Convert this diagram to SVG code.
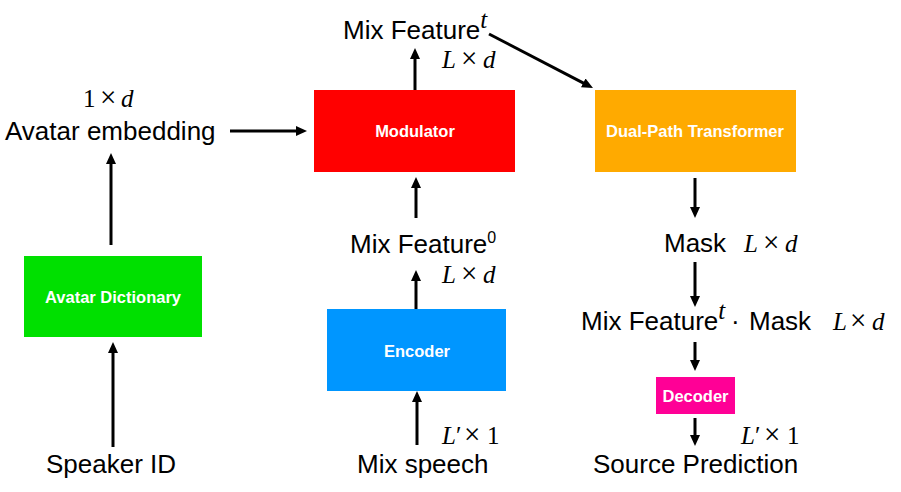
<svg xmlns="http://www.w3.org/2000/svg" width="901" height="492" viewBox="0 0 901 492">
<style>
.lbl{font-family:"Liberation Sans",Arial,sans-serif;font-size:26px;fill:#000}
.box{font-family:"Liberation Sans",Arial,sans-serif;font-size:16.5px;font-weight:bold;fill:#fff;text-anchor:middle}
.m{font-family:"Liberation Serif","Times New Roman",serif;font-size:25px;fill:#000}
.i{font-style:italic}
.x{font-size:29px}
.sup{font-size:16px}
.conn line{stroke:#000;stroke-width:3;fill:none}
</style>
<defs>
<marker id="ah" markerUnits="userSpaceOnUse" markerWidth="12" markerHeight="11" refX="3" refY="5" orient="auto">
<path d="M0,0 L11,5 L0,10 z" fill="#000"/>
</marker>
</defs>
<rect width="901" height="492" fill="#fff"/>

<g id="avatar-dictionary">
<rect x="24" y="256" width="178" height="81" fill="#00E000"/>
<text class="box" x="113" y="303">Avatar Dictionary</text>
</g>
<g id="modulator">
<rect x="314" y="90" width="201" height="82" fill="#FF0000"/>
<text class="box" x="415" y="137">Modulator</text>
</g>
<g id="encoder">
<rect x="327" y="309" width="179" height="82" fill="#0096FF"/>
<text class="box" x="417" y="357">Encoder</text>
</g>
<g id="dual-path-transformer">
<rect x="595" y="90" width="201" height="82" fill="#FFAA00"/>
<text class="box" x="695" y="137">Dual-Path Transformer</text>
</g>
<g id="decoder">
<rect x="656" y="377" width="79" height="37" fill="#FF0096"/>
<text class="box" x="695.5" y="402">Decoder</text>
</g>

<g id="speaker-id"><text class="lbl" x="46" y="473">Speaker ID</text></g>
<g id="avatar-embedding">
<text class="lbl" x="5" y="140">Avatar embedding</text>
<text class="m" x="83" y="107">1<tspan x="100" class="x">×</tspan><tspan x="121" class="i">d</tspan></text>
</g>
<g id="mix-feature-t">
<text class="lbl" x="343" y="39">Mix Feature<tspan class="m i" font-size="17px" dy="-11">t</tspan></text>
<text class="m" x="442" y="68"><tspan class="i">L</tspan><tspan x="461" class="x">×</tspan><tspan x="483" class="i">d</tspan></text>
</g>
<g id="mix-feature-0">
<text class="lbl" x="350" y="253">Mix Feature<tspan class="sup" dy="-10">0</tspan></text>
<text class="m" x="442" y="283"><tspan class="i">L</tspan><tspan x="461" class="x">×</tspan><tspan x="483" class="i">d</tspan></text>
</g>
<g id="mix-speech">
<text class="lbl" x="357" y="473">Mix speech</text>
<text class="m" x="442" y="444"><tspan class="i">L</tspan>′<tspan x="464" class="x">×</tspan><tspan x="487">1</tspan></text>
</g>
<g id="mask">
<text class="lbl" x="664" y="252">Mask</text>
<text class="m" x="744" y="252"><tspan class="i">L</tspan><tspan x="763" class="x">×</tspan><tspan x="785" class="i">d</tspan></text>
</g>
<g id="masked-feature">
<text class="lbl" x="581" y="330">Mix Feature<tspan class="m i" font-size="17px" dy="-11">t</tspan><tspan x="731" dy="11">·</tspan><tspan x="749">Mask</tspan></text>
<text class="m" x="833" y="330"><tspan class="i">L</tspan><tspan x="850" class="x">×</tspan><tspan x="872" class="i">d</tspan></text>
</g>
<g id="source-prediction">
<text class="lbl" x="593" y="473">Source Prediction</text>
<text class="m" x="741" y="444"><tspan class="i">L</tspan>′<tspan x="764" class="x">×</tspan><tspan x="787">1</tspan></text>
</g>

<g id="connectors" class="conn">
<line x1="113" y1="447" x2="113" y2="350" marker-end="url(#ah)"/>
<line x1="111" y1="245" x2="111" y2="161" marker-end="url(#ah)"/>
<line x1="230" y1="131" x2="299" y2="131" marker-end="url(#ah)"/>
<line x1="417" y1="445" x2="417" y2="399" marker-end="url(#ah)"/>
<line x1="416" y1="309" x2="416" y2="278" marker-end="url(#ah)"/>
<line x1="416" y1="218" x2="416" y2="185" marker-end="url(#ah)"/>
<line x1="415" y1="90" x2="415" y2="56" marker-end="url(#ah)"/>
<line x1="489" y1="34" x2="585.9" y2="84.3" marker-end="url(#ah)"/>
<line x1="695" y1="178" x2="695" y2="210" marker-end="url(#ah)"/>
<line x1="695" y1="262" x2="695" y2="299" marker-end="url(#ah)"/>
<line x1="695" y1="342" x2="695" y2="363" marker-end="url(#ah)"/>
<line x1="695" y1="418" x2="695" y2="438" marker-end="url(#ah)"/>
</g>
</svg>
